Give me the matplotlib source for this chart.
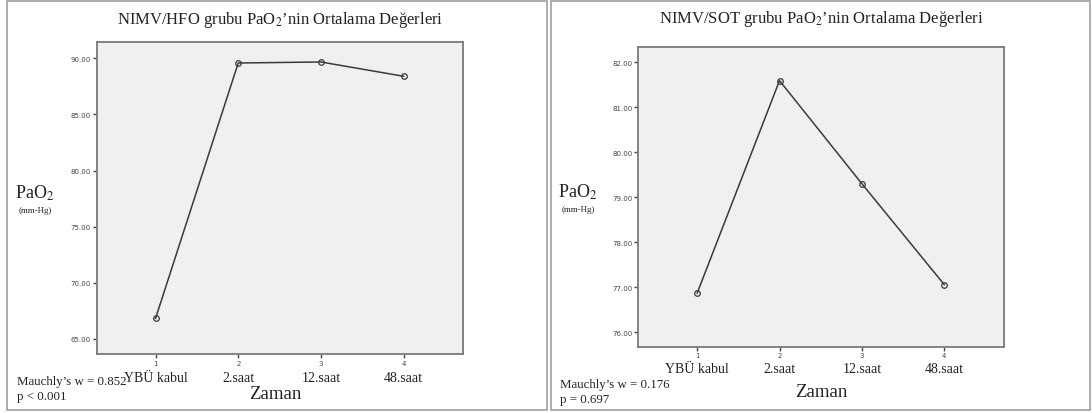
import matplotlib
matplotlib.use('Agg')
import matplotlib.pyplot as plt
from matplotlib.patches import Rectangle

plt.rcParams['mathtext.fontset'] = 'stix'

# data
zaman = [1, 2, 3, 4]
zaman_labels = ['YBÜ kabul', '2.saat', '12.saat', '48.saat']
hfo_pao2 = [66.84, 89.58, 89.67, 88.40]
sot_pao2 = [76.87, 81.59, 79.30, 77.06]
hfo_yticks = [65, 70, 75, 80, 85, 90]
sot_yticks = [76, 77, 78, 79, 80, 81, 82]

W, H = 1092, 414
SERIF = 'Liberation Serif'


def px(x, y):
    """Pixel position to figure fraction."""
    return x / W, 1 - y / H


def draw_panel(fig, rect, values, yticks, ylim, title, mauchly, offs):
    x0, x1, y0, y1 = rect
    ax = fig.add_axes([x0 / W, 1 - y1 / H, (x1 - x0) / W, (y1 - y0) / H])
    ax.set_facecolor('#f0f0f0')
    for s in ax.spines.values():
        s.set_color('#7a7a7a')
        s.set_linewidth(1.3)

    ax.plot(zaman, values, '-', color='#3a3a3a', lw=1.1,
            marker='o', ms=4, mfc='none', mec='#3a3a3a', mew=0.9)

    ax.set_xlim(0.285, 4.72)
    ax.set_ylim(*ylim)
    ax.set_yticks(yticks)
    ax.set_yticklabels(['%.2f' % v for v in yticks])
    ax.set_xticks(zaman)
    ax.set_xticklabels([str(v) for v in zaman])
    ax.tick_params(axis='both', direction='out', length=3, width=1,
                   color='#444444', labelsize=5, labelcolor='#444444', pad=1)

    # category names under the tick numbers
    for xv, lab in zip(zaman, zaman_labels):
        ax.annotate(lab, xy=(xv, 0), xycoords=('data', 'axes fraction'),
                    xytext=(0, -offs['cat'] * 0.72), textcoords='offset points',
                    ha='center', va='center', family=SERIF, fontsize=10,
                    color='#222222')

    left = offs['left']
    cx = (x0 + x1) / 2 + offs['title_dx']
    fig.text(*px(cx, offs['title_y']), title, ha='center', va='center',
             family=SERIF, fontsize=12, color='#222222')
    fig.text(*px(left + 18, offs['pao2_y']), 'PaO$_2$', ha='center', va='center',
             family=SERIF, fontsize=13, color='#222222')
    fig.text(*px(left + 18, offs['pao2_y'] + 18), '(mm-Hg)', ha='center',
             va='center', family=SERIF, fontsize=6.5, color='#222222')
    fig.text(*px(cx + offs['zaman_dx'], offs['zaman_y']), 'Zaman', ha='center',
             va='center', family=SERIF, fontsize=13.5, color='#222222')
    fig.text(*px(left, offs['m_y']), mauchly[0], ha='left', va='center',
             family=SERIF, fontsize=9.3, color='#222222')
    fig.text(*px(left, offs['m_y'] + 15), mauchly[1], ha='left', va='center',
             family=SERIF, fontsize=9.3, color='#222222')
    return ax


fig = plt.figure(figsize=(W / 100, H / 100), dpi=100)

# panel frames
for bx0, bx1 in [(7, 547), (551, 1090)]:
    fig.patches.append(Rectangle(px(bx0, 411), (bx1 - bx0) / W, 409 / H,
                                 transform=fig.transFigure, fill=False,
                                 edgecolor='#a0a0a0', lw=1.2))

draw_panel(fig, (96.5, 463, 43, 355), hfo_pao2, hfo_yticks, (63.66, 91.45),
           'NIMV/HFO grubu PaO$_2$\u2019nin Ortalama Değerleri',
           ('Mauchly\u2019s w = 0.852', 'p < 0.001'),
           dict(cat=24, left=17, title_dx=0, title_y=20, pao2_y=193,
                zaman_dx=-5, zaman_y=395, m_y=382))

draw_panel(fig, (638.3, 1003.5, 48.3, 347.7), sot_pao2, sot_yticks, (75.68, 82.33),
           'NIMV/SOT grubu PaO$_2$\u2019nin Ortalama Değerleri',
           ('Mauchly\u2019s w = 0.176', 'p = 0.697'),
           dict(cat=21.5, left=560, title_dx=0, title_y=19, pao2_y=192,
                zaman_dx=0, zaman_y=393, m_y=385))

fig.savefig('out.png', dpi=100)
